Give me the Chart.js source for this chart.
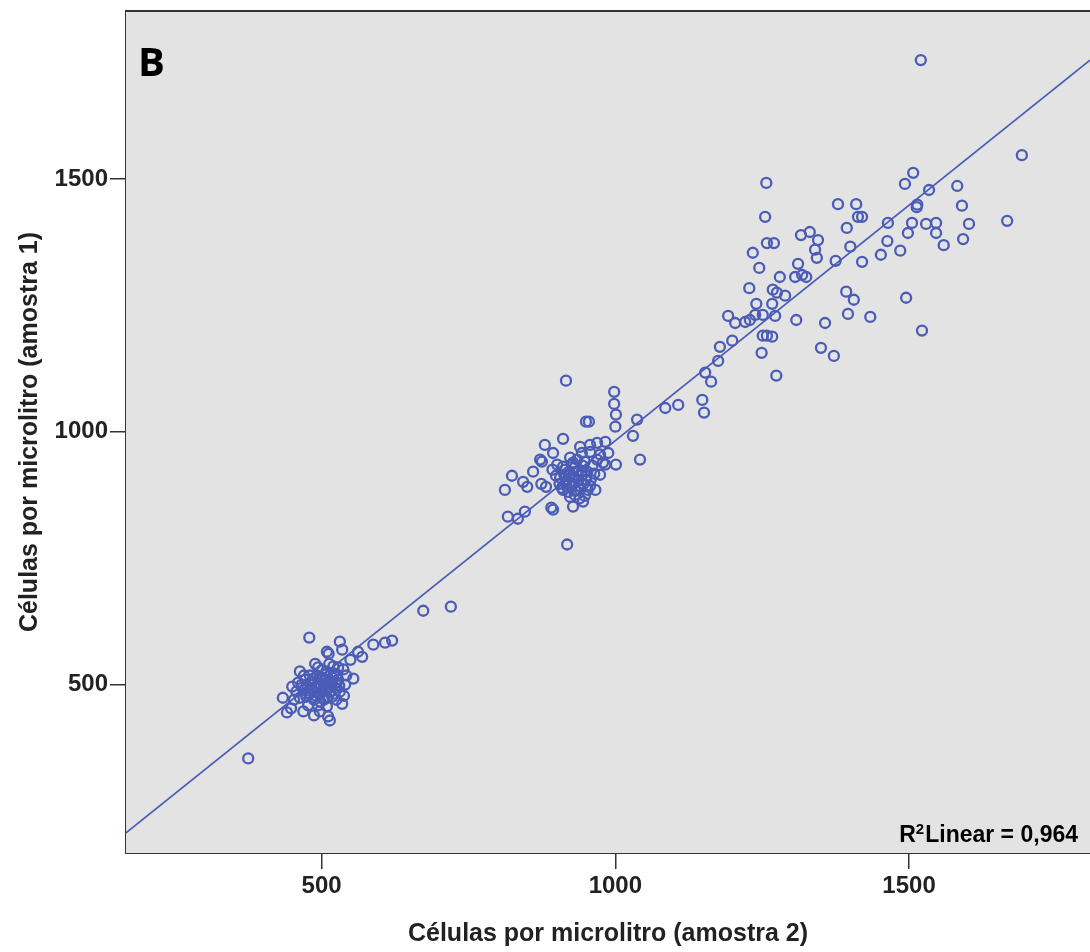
<!DOCTYPE html>
<html><head><meta charset="utf-8">
<script src="https://cdn.jsdelivr.net/npm/chart.js@4.4.1/dist/chart.umd.min.js"></script>
<style>html,body{margin:0;padding:0;background:#fff;} #wrap{width:1090px;height:952px;position:relative;}</style>
</head><body><div id="wrap"><canvas id="c"></canvas></div>
<script>
// Células por microlitro (amostra 2) -> x ; (amostra 1) -> y
const amostra2 = [
375,479,531,535,509,562,569,588,608,620,673,720,489,463,450,434,441,448,469,494,509,511,514,538,540,554,537,549,520,526,512,
460,472,480,484,494,501,508,514,523,528,497,487,473,463,477,504,518,531,508,494,521,467,491,511,484,504,525,453,535,457,497,487,470,513,528,542,480,514,
466,476,486,490,498,502,506,512,518,522,496,478,470,482,492,500,516,526,505,488,510,474,498,530,
812,824,817,834,846,843,850,860,872,880,874,882,891,894,911,916,918,928,931,923,928,911,940,943,950,955,957,957,969,983,988,979,974,966,998,998,1001,1000,1001,1030,1037,1042,948,952,901,911,894,875,
914,923,931,937,943,950,957,926,916,906,909,920,940,948,935,961,969,930,953,899,893,939,945,964,923,974,983,
918,928,934,942,946,921,913,938,951,926,944,958,917,905,932,
1085,1107,1148,1151,1153,1163,1178,1175,1199,1192,1204,1221,1229,1238,1251,1272,1308,1251,1258,1267,1249,1274,1228,1268,1275,1289,1240,1267,1234,1245,1257,1255,1258,1270,1280,1306,1318,1325,1311,1316,1331,1345,1340,1343,1379,1410,1413,1420,1394,1400,1420,1375,1452,1485,1463,1464,1498,1505,1514,1513,1507,1493,1534,1529,1546,1546,1559,1592,1602,1590,1582,1667,1692,1520,1495,1522,1393,1406,1396,1434,1357,1350,1372
];
const amostra1 = [
354,593,585,569,565,565,555,579,583,587,646,654,541,526,496,474,445,453,447,459,457,437,429,478,500,512,530,549,536,520,561,
504,510,518,490,502,514,490,502,494,510,480,470,482,474,459,470,476,486,526,534,522,494,494,506,506,498,470,470,462,486,447,439,518,541,534,518,482,486,
500,496,512,478,510,486,520,494,514,482,492,488,490,500,518,528,500,504,508,486,474,476,466,498,
885,913,832,828,842,901,891,921,945,974,897,891,850,846,986,1101,777,939,875,871,852,885,970,958,1020,1020,974,960,978,980,958,939,915,885,1079,1055,1034,1010,935,992,1024,945,941,921,935,931,958,941,
925,915,929,905,921,905,893,893,901,909,889,881,885,873,945,933,945,911,885,913,925,868,862,917,949,955,935,
905,897,921,913,897,921,915,893,913,935,933,905,893,897,883,
1047,1053,1063,1038,1117,1099,1168,1140,1180,1229,1215,1217,1221,1231,1231,1229,1221,1190,1190,1188,1156,1111,1284,1281,1275,1269,1253,1253,1354,1324,1492,1425,1373,1373,1306,1306,1310,1306,1332,1389,1395,1379,1360,1344,1450,1450,1425,1425,1403,1366,1336,1338,1350,1358,1377,1413,1393,1413,1449,1444,1512,1490,1478,1411,1413,1393,1369,1381,1411,1447,1486,1417,1547,1735,1265,1200,1277,1261,1233,1227,1215,1166,1150
];
const xTickValues = [500, 1000, 1500];
const yTickValues = [500, 1000, 1500];
const xRange = [167, 1808];
const yRange = [167, 1832];
const fitIntercept = 51.5;
const fitSlope = 0.931;
const r2Value = '0,964';
const panelLabel = 'B';
const xTitle = 'Células por microlitro (amostra 2)';
const yTitle = 'Células por microlitro (amostra 1)';

const BLUE = '#4a5cb6';
const AXIS = '#333333';
const FONT = "'Liberation Sans Narrow', 'Arial Narrow', 'Liberation Sans', Arial, sans-serif";

const points = amostra2.map((x, i) => ({x: x, y: amostra1[i]}));
const fitLine = [xRange[0], xRange[1]].map(x => ({x: x, y: fitIntercept + fitSlope * x}));

const decor = {
  id: 'decor',
  beforeDatasetsDraw(chart) {
    const {ctx, chartArea: a} = chart;
    ctx.save();
    ctx.fillStyle = '#e3e3e3';
    ctx.fillRect(a.left, a.top, a.right - a.left, a.bottom - a.top);
    ctx.restore();
  },
  afterDraw(chart) {
    const {ctx, chartArea: a} = chart;
    ctx.save();
    ctx.strokeStyle = AXIS;
    ctx.lineWidth = 2;
    ctx.beginPath();
    ctx.moveTo(a.left, a.top);
    ctx.lineTo(a.right, a.top);
    ctx.stroke();
    // panel letter
    ctx.fillStyle = '#000';
    ctx.font = "bold 40px 'Open Sans', 'Noto Sans', sans-serif";
    ctx.textBaseline = 'alphabetic';
    ctx.textAlign = 'left';
    ctx.fillText(panelLabel, a.left + 12, a.top + 65);
    // R² label
    const base = a.bottom - 11;
    const right = 1078;
    ctx.font = "bold 23px " + FONT;
    const rest = 'Linear = ' + r2Value;
    const wRest = ctx.measureText(rest).width;
    ctx.fillText(rest, right - wRest, base);
    ctx.font = "bold 15px " + FONT;
    const wSup = ctx.measureText('2').width;
    ctx.fillText('2', right - wRest - wSup - 1, base - 8);
    ctx.font = "bold 23px " + FONT;
    const wR = ctx.measureText('R').width;
    ctx.fillText('R', right - wRest - wSup - 1 - wR, base);
    ctx.restore();
  }
};

new Chart(document.getElementById('c'), {
  type: 'scatter',
  data: {
    datasets: [
      {
        type: 'scatter',
        data: points,
        pointStyle: 'circle',
        pointRadius: 5,
        pointHoverRadius: 5,
        pointBorderWidth: 2.3,
        borderColor: BLUE,
        backgroundColor: 'rgba(0,0,0,0)',
        order: 2
      },
      {
        type: 'line',
        data: fitLine,
        borderColor: BLUE,
        borderWidth: 1.7,
        pointRadius: 0,
        fill: false,
        order: 1
      }
    ]
  },
  options: {
    responsive: true,
    maintainAspectRatio: false,
    animation: false,
    layout: {autoPadding: false, padding: {top: 11, right: 0, bottom: 0, left: 0}},
    plugins: {legend: {display: false}, tooltip: {enabled: false}},
    scales: {
      x: {
        type: 'linear',
        min: xRange[0], max: xRange[1],
        afterBuildTicks: s => { s.ticks = xTickValues.map(v => ({value: v})); },
        afterFit: s => { s.height = 99; s.paddingLeft = 0; s.paddingRight = 0; },
        grid: {drawOnChartArea: false, drawTicks: true, tickLength: 16, color: AXIS, lineWidth: 1.5},
        border: {display: true, color: AXIS, width: 2},
        ticks: {color: '#222', padding: 3, callback: v => String(v), font: {family: FONT, size: 24, weight: 'bold'}},
        title: {display: true, text: xTitle, color: '#222', padding: {top: 0, bottom: 3}, font: {family: FONT, size: 25, weight: 'bold'}}
      },
      y: {
        type: 'linear',
        min: yRange[0], max: yRange[1],
        afterBuildTicks: s => { s.ticks = yTickValues.map(v => ({value: v})); },
        afterFit: s => { s.width = 126; s.paddingTop = 0; s.paddingBottom = 0; },
        grid: {drawOnChartArea: false, drawTicks: true, tickLength: 16, color: AXIS, lineWidth: 1.5},
        border: {display: true, color: AXIS, width: 2},
        ticks: {color: '#222', padding: 2, callback: v => String(v), font: {family: FONT, size: 24, weight: 'bold'}},
        title: {display: true, text: yTitle, color: '#222', padding: {top: 15, bottom: 0}, font: {family: FONT, size: 25, weight: 'bold'}}
      }
    }
  },
  plugins: [decor]
});
</script>
</body></html>
